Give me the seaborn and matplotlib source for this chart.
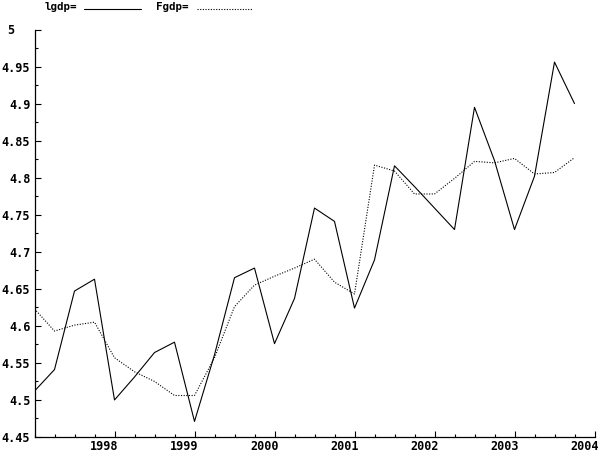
import matplotlib
matplotlib.use("Agg")
import matplotlib.pyplot as plt
import matplotlib.transforms as mtrans
from matplotlib.lines import Line2D
from matplotlib.ticker import MultipleLocator, FixedLocator, FixedFormatter
import pandas as pd
import seaborn as sns

# ---------------- data ----------------
quarters = ["1997Q1", "1997Q2", "1997Q3", "1997Q4",
            "1998Q1", "1998Q2", "1998Q3", "1998Q4",
            "1999Q1", "1999Q2", "1999Q3", "1999Q4",
            "2000Q1", "2000Q2", "2000Q3", "2000Q4",
            "2001Q1", "2001Q2", "2001Q3", "2001Q4",
            "2002Q1", "2002Q2", "2002Q3", "2002Q4",
            "2003Q1", "2003Q2", "2003Q3", "2003Q4"]
lgdp = [4.512, 4.541, 4.647, 4.663,
        4.500, 4.531, 4.564, 4.578,
        4.471, 4.561, 4.665, 4.678,
        4.576, 4.637, 4.759, 4.741,
        4.624, 4.689, 4.816, 4.788,
        4.759, 4.730, 4.895, 4.823,
        4.730, 4.802, 4.956, 4.900]
fgdp = [4.623, 4.593, 4.601, 4.605,
        4.557, 4.538, 4.525, 4.506,
        4.506, 4.557, 4.626, 4.655,
        4.667, 4.678, 4.690, 4.659,
        4.643, 4.817, 4.809, 4.778,
        4.778, 4.799, 4.822, 4.820,
        4.826, 4.805, 4.807, 4.827]
x_ticks = [1998, 1999, 2000, 2001, 2002, 2003, 2004]
x_labels = ["1998", "1999", "2000", "2001", "2002", "2003", "2004"]
y_ticks = [4.45, 4.5, 4.55, 4.6, 4.65, 4.7, 4.75, 4.8, 4.85, 4.9, 4.95, 5.0]
y_labels = ["4.45", "4.5", "4.55", "4.6", "4.65", "4.7", "4.75", "4.8",
            "4.85", "4.9", "4.95", "5"]
series_names = ["lgdp", "Fgdp"]


def quarter_to_time(q):
    year, qn = q.split("Q")
    return int(year) + (int(qn) - 1) / 4.0


df = pd.DataFrame({"t": [quarter_to_time(q) for q in quarters],
                   series_names[0]: lgdp, series_names[1]: fgdp})
long = df.melt(id_vars="t", var_name="series", value_name="value")

# ---------------- style ----------------
sns.set_theme(style="white")
plt.rcParams["font.family"] = ["DejaVu Sans Mono", "DejaVu Sans"]
plt.rcParams["font.weight"] = "bold"
FS = 8.5

W, H = 601, 453
fig = plt.figure(figsize=(W / 100, H / 100), dpi=100)
fig.patch.set_facecolor("white")
ax = fig.add_axes([34.5 / W, 16 / H, (594.5 - 34.5) / W, (437 - 29.5) / H])
ax.set_facecolor("white")

sns.lineplot(data=long, x="t", y="value", hue="series", style="series",
             palette={"lgdp": "black", "Fgdp": "black"},
             dashes={"lgdp": "", "Fgdp": (1, 1.4)},
             linewidth=0.8, legend=False, ax=ax)

ax.set_xlim(1997.0, 2004.0)
ax.set_ylim(4.45, 5.0)
ax.set_xlabel("")
ax.set_ylabel("")

for s in ["top", "right"]:
    ax.spines[s].set_visible(False)
for s in ["left", "bottom"]:
    ax.spines[s].set_color("black")
    ax.spines[s].set_linewidth(0.9)

ax.xaxis.set_major_locator(FixedLocator(x_ticks))
ax.xaxis.set_major_formatter(FixedFormatter(x_labels))
ax.xaxis.set_minor_locator(MultipleLocator(0.25))
ax.yaxis.set_major_locator(FixedLocator(y_ticks))
ax.yaxis.set_major_formatter(FixedFormatter(y_labels))
ax.yaxis.set_minor_locator(MultipleLocator(0.025))

ax.tick_params(which="both", bottom=True, left=True, top=False, right=False)
ax.tick_params(which="major", direction="in", length=4.4, width=0.8,
               color="black", labelsize=FS, labelcolor="black")
ax.tick_params(which="minor", direction="in", length=2.2, width=0.8,
               color="black")
ax.tick_params(axis="y", which="major", pad=3)
ax.tick_params(axis="x", which="major", pad=2.5)

fig.canvas.draw()
for lab in ax.get_xticklabels():
    lab.set_horizontalalignment("right")
    lab.set_transform(lab.get_transform() +
                      mtrans.ScaledTranslation(4 / 100, 0, fig.dpi_scale_trans))
for lab in ax.get_yticklabels():
    if lab.get_text() == "5":
        lab.set_transform(lab.get_transform() +
                          mtrans.ScaledTranslation(-16 / 100, 0, fig.dpi_scale_trans))

# ---------------- legend (label then line, as in the reference) ----------------
LFS = 7.8
fig.text(45 / W, 1 - 10 / H, "lgdp=", fontsize=LFS, fontweight="bold",
         va="baseline", ha="left", color="black")
fig.add_artist(Line2D([84 / W, 141 / W], [1 - 9 / H, 1 - 9 / H],
                      transform=fig.transFigure, color="black", lw=0.8))
fig.text(156 / W, 1 - 10 / H, "Fgdp=", fontsize=LFS, fontweight="bold",
         va="baseline", ha="left", color="black")
fig.add_artist(Line2D([197 / W, 252 / W], [1 - 9 / H, 1 - 9 / H],
                      transform=fig.transFigure, color="black", lw=0.8,
                      dashes=(1, 1.4)))

fig.savefig("out.png", dpi=100, facecolor="white")
